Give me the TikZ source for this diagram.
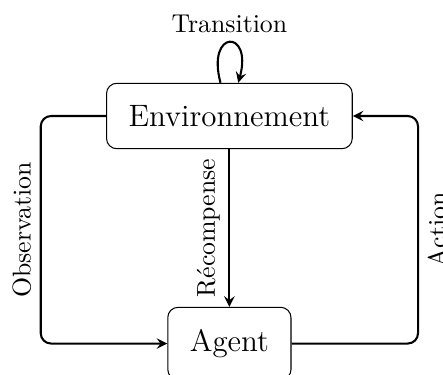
\documentclass[tikz,border=0pt]{standalone}
\usetikzlibrary{arrows, arrows.meta, positioning}

\begin{document}
\begin{tikzpicture}[
        block/.style={rectangle, draw, rounded corners=4pt, inner sep=0.3cm, font=\large},
        flow/.style={-stealth, thick, rounded corners=4pt},
        flowlabel/.style={midway, rotate=90}
    ]
        \useasboundingbox (-3.125, 1.58) rectangle (2.91, -3.515);

        % Blocks
        \node[block] (env)   at (0, 0)    {Environnement};
        \node[block] (agent) at (0, -3.1) {Agent};

        % Corners of the loops
        \coordinate (obs) at (-2.57, 0);
        \coordinate (act) at (2.57, 0);

        % Transition
        \draw[flow] (env) to[loop above] node[above] {Transition} (env);

        % Reward
        \draw[flow] (env.south) -- node[flowlabel, anchor=south] {Récompense} (agent.north);

        % Observation and action
        \draw[flow] (env.west) -- (obs) -- node[flowlabel, anchor=south] {Observation} (obs |- agent.west) -- (agent.west);
        \draw[flow] (agent.east) -- (act |- agent.east) -- node[flowlabel, anchor=north] {Action} (act) -- (env.east);

    \end{tikzpicture}
\end{document}
